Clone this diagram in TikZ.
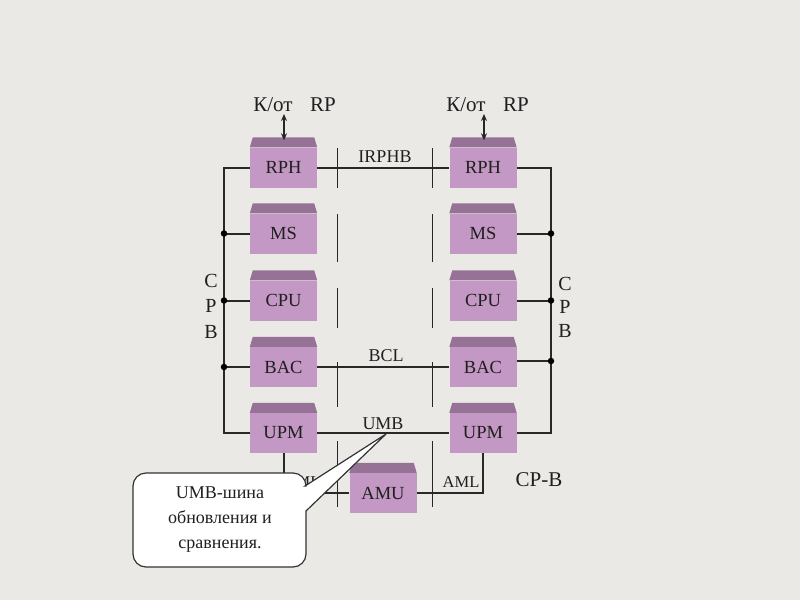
\documentclass[tikz,border=0pt]{standalone}
\usepackage{fontspec}
\setmainfont{Liberation Serif}
\usetikzlibrary{arrows.meta}
\definecolor{bg}{RGB}{234,233,230}
\definecolor{boxbody}{RGB}{196,152,196}
\definecolor{boxtop}{RGB}{150,114,150}
\definecolor{wire}{RGB}{40,40,40}
\begin{document}
\begin{tikzpicture}[x=1pt,y=-1pt,
  unit/.style={fill=boxbody, minimum width=67pt, minimum height=40pt, inner sep=0pt,
    font=\fontsize{18.5}{20}\selectfont, text=black!88},
  bus/.style={draw=wire, line width=2pt},
  divider/.style={draw=black!85, line width=1pt},
  dotnode/.style={circle, fill=black, inner sep=0pt, minimum size=6.5pt},
  lab/.style={font=\fontsize{18}{20}\selectfont, inner sep=0pt, text=black!88},
  big/.style={font=\fontsize{21}{24}\selectfont, inner sep=0pt, text=black!88},
  link/.style={draw=black!85, line width=1.2pt,
    {Stealth[length=7pt,width=6pt]}-{Stealth[length=7pt,width=6pt]}}]
\fill[bg] (0,0) rectangle (800,600);
\useasboundingbox (0,0) rectangle (800,600);

% units
\node[unit] (rph1) at (283.5,167.5) {RPH};
\node[unit] (ms1)  at (283.5,233.5) {MS};
\node[unit] (cpu1) at (283.5,300.5) {CPU};
\node[unit] (bac1) at (283.5,367)   {BAC};
\node[unit] (upm1) at (283.5,433)   {UPM};
\node[unit] (rph2) at (483,167.5) {RPH};
\node[unit] (ms2)  at (483,233.5) {MS};
\node[unit] (cpu2) at (483,300.5) {CPU};
\node[unit] (bac2) at (483,367)   {BAC};
\node[unit] (upm2) at (483,433)   {UPM};
\node[unit] (amu)  at (383,493)   {AMU};
\foreach \n in {rph1,ms1,cpu1,bac1,upm1,rph2,ms2,cpu2,bac2,upm2,amu}{
  \fill[boxtop] (\n.north west) -- ([xshift=3pt,yshift=10pt]\n.north west)
    -- ([xshift=-3pt,yshift=10pt]\n.north east) -- (\n.north east) -- cycle;
}

% bus corners
\coordinate (lt) at (224,167.5);
\coordinate (lb) at (224,433);
\coordinate (rt) at (551,167.5);
\coordinate (rb) at (551,433);
\coordinate (rbac) at (551,361);

% CPB buses
\draw[bus] (rph1.west) -- (lt) -- (lb) -- (upm1.west);
\draw[bus] (rph2.east) -- (rt) -- (rb) -- (upm2.east);
\draw[bus] (ms1.west) -- (ms1.west -| lt);
\draw[bus] (cpu1.west) -- (cpu1.west -| lt);
\draw[bus] (bac1.west) -- (bac1.west -| lt);
\draw[bus] (ms2.east) -- (ms2.east -| rt);
\draw[bus] (cpu2.east) -- (cpu2.east -| rt);
\draw[bus] (bac2.east |- rbac) -- (rbac);
\node[dotnode] (dl1) at (ms1.west -| lt) {};
\node[dotnode] (dl2) at (cpu1.west -| lt) {};
\node[dotnode] (dl3) at (bac1.west -| lt) {};
\node[dotnode] (dr1) at (ms2.east -| rt) {};
\node[dotnode] (dr2) at (cpu2.east -| rt) {};
\node[dotnode] (dr3) at (rbac) {};

% cross links
\draw[bus] (rph1.east) -- (rph2.west);
\draw[bus] (bac1.east) -- (bac2.west);
\draw[bus] (upm1.east) -- (upm2.west);
\draw[bus] (upm1.south) |- (amu.west);
\draw[bus] (upm2.south) |- (amu.east);

% dividers
\foreach \x in {337,432}{
  \foreach \a/\b in {148/188,214/262,288/328,362/407,441/507}{
    \draw[divider] (\x,\a) -- (\x,\b);
  }
}

% labels
\node[lab] (lirphb) at (385,157) {IRPHB};
\node[lab] (lbcl) at (386,356) {BCL};
\node[lab] (lumb) at (383,424) {UMB};
\node[lab, font=\fontsize{16.5}{18}\selectfont] (laml2) at (461,482) {AML};
\node[lab, font=\fontsize{16.5}{18}\selectfont] (laml1) at (302,482) {AML};
\node[big] (lcpb) at (539,480) {CP-B};

\node[big] (k1) at (273,105) {К/от};
\node[big] (r1) at (323,105) {RP};
\node[big] (k2) at (466,105) {К/от};
\node[big] (r2) at (516,105) {RP};
\coordinate (a1) at (284,114);
\coordinate (a2) at (484,114);
\draw[link] (a1) -- ([yshift=7pt]a1 |- rph1.north);
\draw[link] (a2) -- ([yshift=7pt]a2 |- rph2.north);

\node[big, align=center, font=\fontsize{20}{25.5}\selectfont] (cpbl) at (211,306) {C\\P\\B};
\node[big, align=center, font=\fontsize{20}{23.5}\selectfont] (cpbr) at (565,307) {C\\P\\B};

% callout
\coordinate (tip) at (386,434);
\draw[fill=white, draw=black!80, line width=1.2pt]
  (305,486) -- (tip) -- (306,511) [rounded corners=13pt] -- (306,567) -- (133,567)
  -- (133,473) -- (306,473) [sharp corners] -- (306,486) -- cycle;
\node[align=center, font=\fontsize{18}{25}\selectfont, text=black!88] (callout) at (220,520)
  {UMB-шина\\обновления и\\сравнения.};
\end{tikzpicture}
\end{document}
